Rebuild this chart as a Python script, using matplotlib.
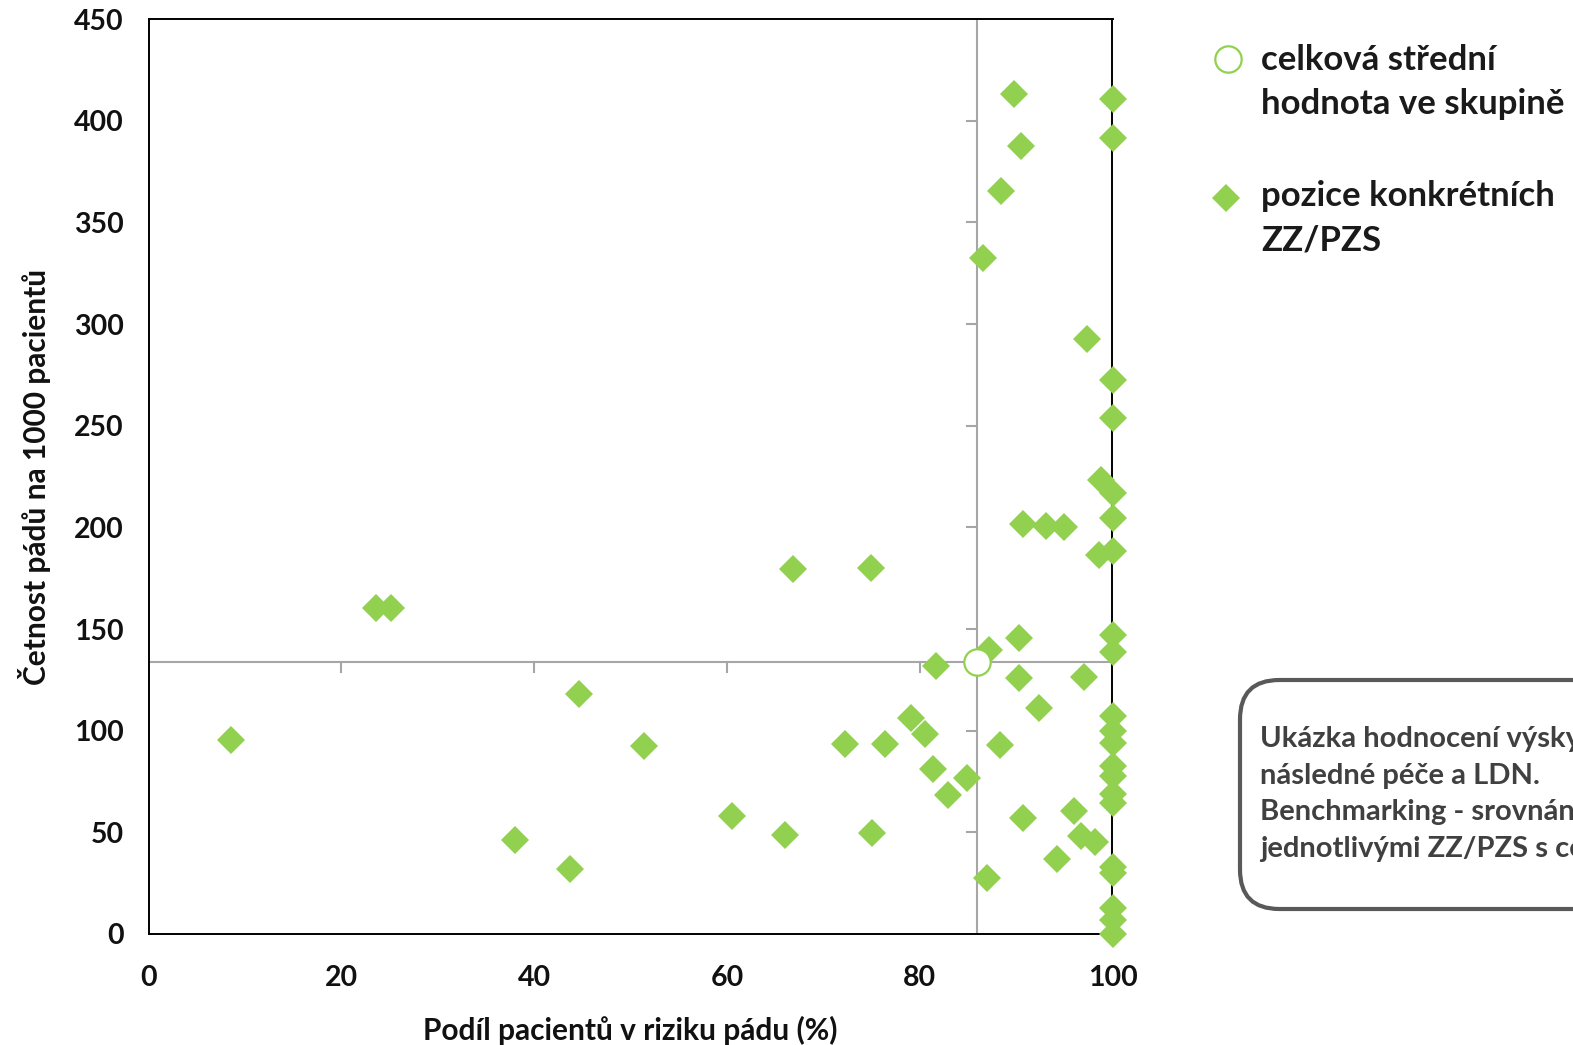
import matplotlib
matplotlib.use("Agg")
import matplotlib.pyplot as plt
from matplotlib.lines import Line2D
from matplotlib.patches import FancyBboxPatch

plt.rcParams['font.family'] = ['Lato', 'DejaVu Sans']
plt.rcParams['font.weight'] = 'bold'

# ---- data ----
share_at_risk = [8.6, 23.6, 25.2, 38.0, 43.7, 44.7, 51.4, 60.5, 66.0, 66.9,
                 72.2, 74.9, 75.1, 76.4, 79.1, 80.6, 81.4, 81.7, 82.9, 84.9,
                 86.6, 87.0, 87.2, 88.3, 88.4, 89.8, 90.3, 90.3, 90.5, 90.7,
                 90.7, 92.4, 93.1, 94.2, 95.0, 96.0, 96.7, 97.0, 97.4, 98.2,
                 98.8, 98.6,
                 100, 100, 100, 100, 100, 100, 100, 100, 100, 100, 100,
                 100, 100, 100, 100, 100, 100, 100, 100, 100, 100]
fall_rate = [95.2, 160.4, 160.4, 46.4, 32.1, 117.9, 92.3, 58.2, 48.8, 179.6,
             93.3, 180.1, 49.8, 93.3, 106.1, 98.2, 81.4, 131.7, 68.6, 76.5,
             332.6, 27.6, 139.6, 92.8, 365.6, 413.0, 145.6, 125.8, 387.8, 201.8,
             57.2, 111.0, 200.8, 37.0, 200.3, 60.7, 48.4, 126.3, 292.6, 45.4,
             223.5, 186.5,
             410.7, 391.7, 272.4, 253.6, 216.8, 204.4, 188.4, 147.0, 138.8, 107.2, 99.8,
             94.1, 82.6, 77.7, 68.8, 64.6, 33.1, 30.0, 12.8, 6.9, 0.0]
mean_share = 85.9
mean_rate = 134.0

x_ticks = [0, 20, 40, 60, 80, 100]
y_ticks = [0, 50, 100, 150, 200, 250, 300, 350, 400, 450]

x_label = "Podíl pacientů v riziku pádu (%)"
y_label = "Četnost pádů na 1000 pacientů"
legend_labels = ["celková střední\nhodnota ve skupině", "pozice konkrétních\nZZ/PZS"]
note_text = ("Ukázka hodnocení výskytu pádů ve skupině\n"
             "následné péče a LDN.\n"
             "Benchmarking - srovnání mezi\n"
             "jednotlivými ZZ/PZS s celkovou")

GREEN = '#92D050'
GRAY = '#A6A6A6'

W, H = 1573, 1045
fig = plt.figure(figsize=(W / 100, H / 100), dpi=100)
ax = fig.add_axes([148.5 / W, 1 - 934 / H, (1112.5 - 148.5) / W, (934 - 19.1) / H])

ax.set_xlim(0, 100)
ax.set_ylim(0, 450)
ax.set_xticks(x_ticks)
ax.set_yticks(y_ticks)
ax.tick_params(length=0, labelsize=20.5, colors='#111111')
ax.tick_params(axis='x', pad=22)
ax.tick_params(axis='y', pad=18)
for s in ax.spines.values():
    s.set_color('black')
    s.set_linewidth(1.4)

# crosshair at the group mean
ax.axvline(mean_share, color=GRAY, lw=1.5, zorder=2)
ax.axhline(mean_rate, color=GRAY, lw=1.5, zorder=2)
# tick marks on the crosshair lines
xr = 100 / 964.0  # data units per pixel (x)
yr = 450 / 914.9  # data units per pixel (y)
for yt in y_ticks[1:-1]:
    ax.plot([mean_share - 10 * xr, mean_share], [yt, yt], color=GRAY, lw=1.5, zorder=2)
for xt in x_ticks[1:]:
    ax.plot([xt, xt], [mean_rate - 10 * yr, mean_rate], color=GRAY, lw=1.5, zorder=2)

ax.plot(share_at_risk, fall_rate, linestyle='none', marker='D', markersize=14.5,
        color=GREEN, markeredgewidth=0, clip_on=False, zorder=5)
ax.plot([mean_share], [mean_rate], linestyle='none', marker='o', markersize=19,
        markerfacecolor='white', markeredgecolor=GREEN, markeredgewidth=1.6,
        clip_on=False, zorder=6)

ax.set_xlabel(x_label, fontsize=21.5, fontweight='bold', labelpad=18, color='#111111')
ax.set_ylabel(y_label, fontsize=21.5, fontweight='bold', labelpad=16, color='#111111')

# legend (manual, markers aligned with first line)
fig.add_artist(Line2D([1228 / W], [1 - 59.2 / H], transform=fig.transFigure,
                      marker='o', markersize=19, markerfacecolor='white',
                      markeredgecolor=GREEN, markeredgewidth=1.6, linestyle='none'))
fig.add_artist(Line2D([1226 / W], [1 - 197.6 / H], transform=fig.transFigure,
                      marker='D', markersize=14.5, color=GREEN, markeredgewidth=0,
                      linestyle='none'))
fig.text(1261 / W, 1 - 81.8 / H, legend_labels[0], fontsize=25, fontweight='bold',
         va='center', ha='left', linespacing=1.45, color='#1a1a1a')
fig.text(1261 / W, 1 - 218.2 / H, legend_labels[1], fontsize=25, fontweight='bold',
         va='center', ha='left', linespacing=1.45, color='#1a1a1a')

# note box (extends past right edge)
box = FancyBboxPatch((1240 / W, 1 - 909 / H), 400 / W, (909 - 680) / H,
                     boxstyle='round,pad=0,rounding_size=0.025',
                     transform=fig.transFigure, facecolor='white',
                     edgecolor='#595959', linewidth=3, mutation_aspect=W / H)
fig.add_artist(box)
fig.text(1260 / W, 1 - 793.5 / H, note_text, fontsize=21, fontweight='bold',
         va='center', ha='left', linespacing=1.5, color='#404040')

fig.savefig('out.png', dpi=100)
